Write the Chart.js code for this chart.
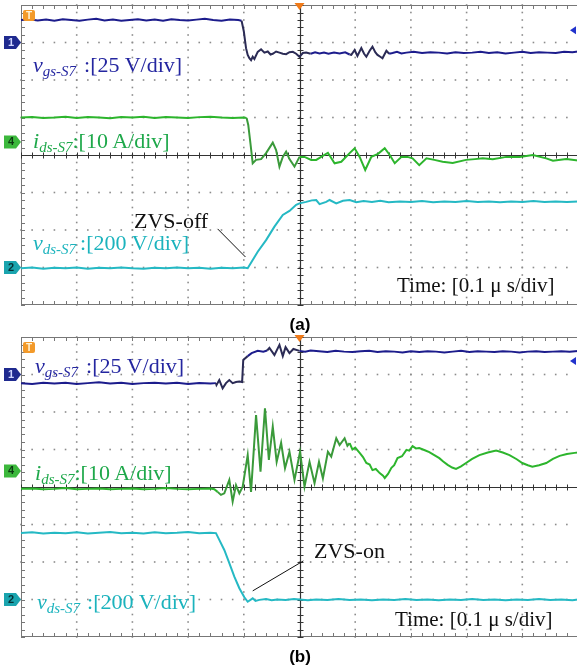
<!DOCTYPE html>
<html>
<head>
<meta charset="utf-8">
<script src="https://cdn.jsdelivr.net/npm/chart.js@4.4.1/dist/chart.umd.min.js"></script>
<style>
  html, body { margin: 0; padding: 0; background: #fff; width: 577px; height: 669px; overflow: hidden; position: relative; }
  canvas { position: absolute; left: 0; }
  .lab { position: absolute; font-family: "Liberation Serif", "Times New Roman", serif; font-size: 22px; line-height: 22px; white-space: nowrap; }
  .lab i { font-style: italic; }
  .lab sub { font-size: 15px; font-style: italic; vertical-align: baseline; position: relative; top: 4px; line-height: 0; }
  .time { font-size: 21px; line-height: 21px; color: #111; }
  .cap { position: absolute; font-family: "Liberation Sans", Arial, sans-serif; font-weight: bold; font-size: 17px; line-height: 17px; width: 40px; text-align: center; }
</style>
</head>
<body>
<canvas id="scopeA" width="600" height="330" style="top:0"></canvas>
<canvas id="scopeB" width="600" height="339" style="top:330px"></canvas>

<!-- panel (a) labels -->
<div class="lab" style="left:33px;top:53.6px;color:#2426a0"><i>v</i><sub>gs-S7</sub><span style="margin-left:8px">:[25 V/div]</span></div>
<div class="lab" style="left:33px;top:129.6px;color:#1ea84a"><i>i</i><sub>ds-S7</sub>:[10 A/div]</div>
<div class="lab" style="left:33px;top:231.6px;color:#1bb3bd"><i>v</i><sub>ds-S7</sub><span style="margin-left:4px">:[200 V/div]</span></div>
<div class="lab time" style="left:397px;top:275.4px">Time: [0.1 μ s/div]</div>
<div class="lab" style="left:134px;top:209.6px;color:#111">ZVS-off</div>
<div class="cap" style="left:280px;top:315.5px">(a)</div>

<!-- panel (b) labels -->
<div class="lab" style="left:35px;top:354.6px;color:#2426a0"><i>v</i><sub>gs-S7</sub><span style="margin-left:8px">:[25 V/div]</span></div>
<div class="lab" style="left:35px;top:461.6px;color:#1ea84a"><i>i</i><sub>ds-S7</sub>:[10 A/div]</div>
<div class="lab" style="left:37px;top:590.6px;color:#1bb3bd"><i>v</i><sub>ds-S7</sub><span style="margin-left:7px">:[200 V/div]</span></div>
<div class="lab time" style="left:395px;top:609.4px">Time: [0.1 μ s/div]</div>
<div class="lab" style="left:314px;top:539.6px;color:#111">ZVS-on</div>
<div class="cap" style="left:280px;top:647.5px">(b)</div>

<script>
// time in ns (0.1 us/div), values in screen divisions (8 div tall, 0 = centre line)

// ---- (a) turn-off ----
const vgsOff = [
  [-500,3.60],[-485,3.62],[-470,3.59],[-455,3.61],[-440,3.58],[-425,3.62],[-410,3.60],[-395,3.58],[-380,3.61],[-365,3.63],
  [-350,3.59],[-335,3.61],[-320,3.58],[-305,3.60],[-290,3.62],[-275,3.59],[-260,3.61],[-245,3.58],[-230,3.62],[-215,3.60],
  [-200,3.59],[-185,3.61],[-170,3.63],[-155,3.60],[-140,3.58],[-125,3.61],[-110,3.60],[-104,3.58],
  [-100,3.30],[-96,2.85],[-93,2.67],[-90,2.58],[-87,2.53],[-84,2.62],[-81,2.56],[-75,2.75],[-69,2.82],[-63,2.73],
  [-57,2.76],[-52,2.68],[-48,2.70],[-42,2.76],[-36,2.73],[-30,2.70],[-24,2.69],[-18,2.74],[-12,2.75],[-6,2.70],
  [0,2.62],[6,2.72],[12,2.73],[20,2.70],[28,2.74],[36,2.71],[44,2.73],[52,2.70],[62,2.73],[72,2.71],[82,2.74],
  [90,2.68],[93,2.67],[99,2.80],[104,2.64],[111,2.85],[116,2.70],[120,2.62],[126,2.78],[131,2.89],[136,2.74],
  [140,2.67],[145,2.62],[149,2.58],[156,2.78],[161,2.70],[167,2.72],[175,2.75],[183,2.71],[192,2.73],[205,2.75],
  [220,2.72],[235,2.74],[250,2.73],[265,2.71],[280,2.74],[295,2.72],[310,2.73],[325,2.75],[340,2.72],[355,2.74],
  [370,2.71],[385,2.73],[400,2.75],[415,2.72],[430,2.74],[445,2.73],[460,2.72],[475,2.75],[490,2.74],[500,2.76]
];
const idsOff = [
  [-500,1.00],[-480,1.01],[-460,0.99],[-440,1.00],[-420,1.02],[-400,0.99],[-380,1.01],[-360,1.00],[-340,0.98],[-320,1.01],
  [-300,1.00],[-280,1.02],[-260,0.99],[-240,1.01],[-220,1.00],[-200,0.99],[-180,1.01],[-160,1.02],[-140,1.00],[-120,0.99],
  [-100,1.00],[-95,0.99],[-92,0.80],[-88,0.30],[-84,-0.22],[-78,-0.13],[-69,-0.11],[-60,0.05],[-48,0.33],[-42,0.13],
  [-36,-0.31],[-30,-0.05],[-24,0.09],[-18,-0.11],[-9,-0.31],[0,-0.05],[9,-0.05],[21,-0.13],[30,-0.13],[39,-0.05],
  [51,0.06],[63,-0.22],[75,-0.18],[90,0.05],[99,0.18],[108,-0.05],[118,-0.40],[129,-0.05],[141,0.03],[153,0.18],
  [162,0.00],[171,-0.22],[183,-0.05],[194,-0.05],[203,-0.09],[215,-0.27],[228,-0.09],[242,-0.13],[257,-0.18],[275,-0.21],
  [299,-0.13],[315,-0.11],[329,-0.09],[347,-0.11],[371,-0.05],[395,-0.05],[419,0.00],[443,-0.09],[455,-0.15],[479,-0.11],[500,-0.15]
];
const vdsOff = [
  [-500,-3.02],[-480,-3.00],[-460,-3.03],[-440,-3.01],[-420,-3.02],[-400,-3.00],[-380,-3.03],[-360,-3.01],[-340,-3.02],
  [-320,-3.00],[-300,-3.02],[-280,-3.03],[-260,-3.01],[-240,-3.02],[-220,-3.00],[-200,-3.02],[-180,-3.01],[-160,-3.03],
  [-140,-3.01],[-120,-3.02],[-100,-3.00],[-93,-3.02],
  [-84,-2.80],[-75,-2.58],[-60,-2.27],[-45,-1.91],[-30,-1.60],[-18,-1.49],[-6,-1.33],[0,-1.29],[12,-1.25],[22,-1.21],
  [30,-1.20],[36,-1.31],[48,-1.25],[54,-1.20],[66,-1.29],[78,-1.22],[90,-1.20],[102,-1.26],[115,-1.23],[130,-1.25],
  [145,-1.22],[160,-1.26],[180,-1.24],[200,-1.25],[220,-1.23],[240,-1.26],[260,-1.24],[280,-1.25],[300,-1.23],[320,-1.25],
  [340,-1.24],[360,-1.26],[380,-1.24],[400,-1.25],[420,-1.23],[440,-1.25],[460,-1.24],[480,-1.25],[500,-1.24]
];
const zvsOffLine = [[-147,-1.97],[-97,-2.72]];

// ---- (b) turn-on ----
const vgsOn = [
  [-500,2.77],[-480,2.75],[-460,2.78],[-440,2.76],[-420,2.78],[-400,2.75],[-380,2.77],[-360,2.79],[-340,2.76],[-320,2.78],
  [-300,2.75],[-280,2.77],[-260,2.78],[-240,2.76],[-220,2.78],[-200,2.75],[-180,2.77],[-160,2.76],[-150,2.77],
  [-149,2.72],[-144,2.85],[-138,2.63],[-132,2.77],[-126,2.85],[-120,2.77],[-114,2.80],[-108,2.81],[-103,2.80],
  [-101,3.39],[-93,3.49],[-86,3.57],[-75,3.63],[-65,3.61],[-58,3.64],[-54,3.71],[-45,3.52],[-36,3.79],[-30,3.49],
  [-25,3.73],[-18,3.57],[-11,3.68],[0,3.63],[10,3.61],[20,3.64],[35,3.62],[50,3.60],[65,3.63],[80,3.61],[95,3.60],
  [110,3.62],[125,3.63],[140,3.60],[155,3.62],[170,3.61],[185,3.59],[200,3.62],[215,3.60],[230,3.62],[245,3.61],
  [260,3.59],[275,3.61],[290,3.63],[305,3.60],[320,3.62],[335,3.61],[350,3.60],[365,3.62],[380,3.61],[395,3.59],
  [410,3.61],[425,3.62],[440,3.60],[455,3.61],[470,3.62],[485,3.61],[500,3.63]
];
const idsOn = [
  [-500,-0.05],[-480,-0.04],[-460,-0.06],[-440,-0.05],[-420,-0.03],[-400,-0.06],[-380,-0.05],[-360,-0.04],[-340,-0.06],
  [-320,-0.05],[-300,-0.04],[-280,-0.06],[-260,-0.05],[-240,-0.03],[-220,-0.05],[-200,-0.06],[-180,-0.05],[-160,-0.04],
  [-153,-0.06],[-147,-0.13],[-141,-0.21],[-135,-0.17],[-126,0.19],[-120,-0.39],[-114,0.05],[-108,-0.17],[-102,0.01],
  [-93,0.85],[-87,-0.13],[-78,1.92],[-70,0.41],[-62,2.10],[-55,0.72],[-48,1.61],[-41,0.67],[-33,1.18],[-26,0.50],
  [-18,0.94],[-9,0.19],[1,0.94],[9,0.01],[18,0.67],[27,0.10],[35,0.67],[42,0.23],[51,0.94],[57,0.81],[66,1.30],
  [72,1.12],[81,1.30],[86,1.10],[90,1.17],[95,1.00],[100,1.05],[108,0.91],[114,0.80],[120,0.64],[126,0.60],[131,0.45],
  [137,0.48],[144,0.37],[150,0.30],[153,0.24],[159,0.35],[165,0.51],[170,0.58],[176,0.77],[184,0.82],[192,0.99],
  [197,0.97],[203,1.09],[209,1.03],[215,1.04],[225,0.98],[233,0.93],[242,0.85],[251,0.77],[258,0.68],[266,0.59],
  [274,0.52],[281,0.48],[290,0.55],[299,0.64],[310,0.75],[323,0.85],[338,0.92],[353,0.97],[365,0.92],[377,0.85],
  [390,0.74],[400,0.64],[410,0.58],[418,0.54],[430,0.58],[443,0.64],[455,0.75],[467,0.83],[480,0.88],[494,0.91],[500,0.92]
];
const vdsOn = [
  [-500,-1.23],[-480,-1.21],[-460,-1.24],[-440,-1.22],[-420,-1.23],[-400,-1.21],[-380,-1.24],[-360,-1.22],[-340,-1.20],
  [-320,-1.23],[-300,-1.22],[-280,-1.24],[-260,-1.21],[-240,-1.23],[-220,-1.22],[-200,-1.20],[-180,-1.23],[-160,-1.22],
  [-150,-1.23],[-144,-1.41],[-135,-1.68],[-126,-2.03],[-117,-2.39],[-108,-2.70],[-99,-2.94],[-93,-3.06],[-84,-2.97],
  [-79,-3.04],[-72,-3.01],[-60,-2.99],[-50,-3.02],[-40,-3.00],[-25,-3.01],[-10,-2.99],[0,-3.00],[15,-3.02],[30,-3.00],
  [50,-3.01],[70,-2.99],[90,-3.01],[110,-3.00],[130,-3.02],[150,-3.00],[170,-3.01],[190,-2.99],[210,-3.01],[230,-3.00],
  [250,-3.02],[270,-3.00],[290,-3.01],[310,-2.99],[330,-3.01],[350,-3.00],[370,-3.02],[390,-3.00],[410,-3.01],
  [430,-2.99],[450,-3.01],[470,-3.00],[490,-3.02],[500,-3.00]
];
const zvsOnLine = [[7,-1.97],[-84,-2.77]];

// channel ground markers (ch1 vgs, ch4 ids, ch2 vds) and right-side reference arrow
const chNames = ['1', '4', '2'];
const chLevelsOff = [3, 0.35, -3];
const chLevelsOn = [3, 0.43, -3];
const refLevelOff = 3.33;
const refLevelOn = 3.36;

const NAVY = '#1c1c8c', GREEN = '#2db52d', CYAN = '#25b9c4';
const chFill = ['#1f2a8f', '#3cb83c', '#1aa4ae'];

function toXY(arr) {
  return arr.map(p => ({ x: p[0], y: p[1] }));
}

// darker trace where the scope shows intensity grading
function darkIn(ranges, normal, dark) {
  return ctx => {
    const t = ctx.p0.parsed.x;
    for (const r of ranges) {
      if (t >= r[0] && t < r[1]) return dark;
    }
    return normal;
  };
}

const scopePlugin = {
  id: 'scope',
  beforeDatasetsDraw(chart, args, opts) {
    const { ctx, chartArea: a, scales: { x, y } } = chart;
    ctx.save();
    // dotted graticule
    ctx.fillStyle = '#8c8c8c';
    for (let d = -4; d <= 4; d++) {
      if (d === 0) continue;
      const px = x.getPixelForValue(d * 100);
      for (let k = -20; k <= 20; k++) {
        const py = y.getPixelForValue(k / 5);
        ctx.fillRect(px - 0.8, py - 0.8, 1.6, 1.6);
      }
    }
    for (let d = -3; d <= 3; d++) {
      if (d === 0) continue;
      const py = y.getPixelForValue(d);
      for (let k = -25; k <= 25; k++) {
        const px = x.getPixelForValue(k * 20);
        ctx.fillRect(px - 0.8, py - 0.8, 1.6, 1.6);
      }
    }
    // frame
    ctx.strokeStyle = '#777';
    ctx.lineWidth = 1;
    ctx.strokeRect(a.left + 0.5, a.top + 0.5, a.width - 1, a.height - 1);
    // frame ticks
    ctx.beginPath();
    for (let k = -25; k <= 25; k++) {
      const px = Math.round(x.getPixelForValue(k * 20)) + 0.5;
      ctx.moveTo(px, a.top); ctx.lineTo(px, a.top + 4);
      ctx.moveTo(px, a.bottom); ctx.lineTo(px, a.bottom - 4);
    }
    for (let k = -20; k <= 20; k++) {
      const py = Math.round(y.getPixelForValue(k / 5)) + 0.5;
      ctx.moveTo(a.left, py); ctx.lineTo(a.left + 4, py);
    }
    ctx.stroke();
    // centre cross with minor ticks
    const cx = Math.round(x.getPixelForValue(0)) + 0.5;
    const cy = Math.round(y.getPixelForValue(0)) + 0.5;
    ctx.strokeStyle = '#333';
    ctx.lineWidth = 1.2;
    ctx.beginPath();
    ctx.moveTo(cx, a.top); ctx.lineTo(cx, a.bottom);
    ctx.moveTo(a.left, cy); ctx.lineTo(a.right, cy);
    ctx.stroke();
    ctx.lineWidth = 1;
    ctx.beginPath();
    for (let k = -20; k <= 20; k++) {
      const py = Math.round(y.getPixelForValue(k / 5)) + 0.5;
      ctx.moveTo(cx - 3, py); ctx.lineTo(cx + 3, py);
    }
    for (let k = -25; k <= 25; k++) {
      const px = Math.round(x.getPixelForValue(k * 20)) + 0.5;
      ctx.moveTo(px, cy - 3); ctx.lineTo(px, cy + 3);
    }
    ctx.stroke();
    ctx.restore();
  },
  afterDraw(chart, args, opts) {
    const { ctx, chartArea: a, scales: { x, y } } = chart;
    ctx.save();
    // channel ground markers on the left
    opts.levels.forEach((lv, i) => {
      const py = y.getPixelForValue(lv);
      const l = a.left - 17, r = a.left;
      ctx.beginPath();
      ctx.moveTo(l, py - 6.5); ctx.lineTo(r - 5, py - 6.5); ctx.lineTo(r, py);
      ctx.lineTo(r - 5, py + 6.5); ctx.lineTo(l, py + 6.5); ctx.closePath();
      ctx.fillStyle = chFill[i];
      ctx.fill();
      ctx.fillStyle = i === 0 ? '#cfd6ff' : '#0d3b12';
      if (i === 2) ctx.fillStyle = '#063236';
      ctx.font = 'bold 11px "Liberation Sans", Arial, sans-serif';
      ctx.textAlign = 'center';
      ctx.textBaseline = 'middle';
      ctx.fillText(chNames[i], l + 7, py + 0.5);
    });
    // trigger "T" marker
    const tx = a.left + 2, ty = a.top + 5;
    ctx.fillStyle = '#f39a2a';
    ctx.beginPath();
    ctx.roundRect(tx, ty, 12, 11, 2);
    ctx.fill();
    ctx.fillStyle = '#fff4d8';
    ctx.font = 'bold 10px "Liberation Sans", Arial, sans-serif';
    ctx.textAlign = 'center';
    ctx.textBaseline = 'middle';
    ctx.fillText('T', tx + 6, ty + 6);
    // trigger position triangle at top centre
    const cx = x.getPixelForValue(0);
    ctx.fillStyle = '#f07a18';
    ctx.beginPath();
    ctx.moveTo(cx - 5, a.top - 2); ctx.lineTo(cx + 5, a.top - 2); ctx.lineTo(cx, a.top + 5);
    ctx.closePath();
    ctx.fill();
    // reference arrow on the right
    const ry = y.getPixelForValue(opts.ref);
    ctx.fillStyle = '#2233cc';
    ctx.beginPath();
    ctx.moveTo(570, ry); ctx.lineTo(576, ry - 4); ctx.lineTo(576, ry + 4);
    ctx.closePath();
    ctx.fill();
    ctx.restore();
  }
};

function makeScope(canvasId, vgs, ids, vds, note, levels, ref, dark, padding) {
  const ctx = document.getElementById(canvasId).getContext('2d');
  return new Chart(ctx, {
    type: 'scatter',
    data: {
      datasets: [
        { data: toXY(vgs), borderColor: NAVY, borderWidth: 2,
          segment: { borderColor: darkIn(dark.vgs, NAVY, '#2b2b55') } },
        { data: toXY(ids), borderColor: GREEN, borderWidth: 2,
          segment: { borderColor: darkIn(dark.ids, GREEN, '#3a9a3a') } },
        { data: toXY(vds), borderColor: CYAN, borderWidth: 2 },
        { data: toXY(note), borderColor: '#111', borderWidth: 1 }
      ].map(ds => Object.assign(ds, { showLine: true, pointRadius: 0, tension: 0, fill: false }))
    },
    options: {
      responsive: false,
      animation: false,
      devicePixelRatio: 1,
      layout: { padding: padding },
      scales: {
        x: { type: 'linear', min: -500, max: 500, display: false },
        y: { type: 'linear', min: -4, max: 4, display: false }
      },
      plugins: {
        legend: { display: false },
        tooltip: { enabled: false },
        scope: { levels: levels, ref: ref }
      }
    },
    plugins: [scopePlugin]
  });
}

makeScope('scopeA', vgsOff, idsOff, vdsOff, zvsOffLine, chLevelsOff, refLevelOff,
  { vgs: [[-104, 20], [90, 160]], ids: [[-95, 0]] },
  { left: 21, top: 5, right: 22, bottom: 25 });

makeScope('scopeB', vgsOn, idsOn, vdsOn, zvsOnLine, chLevelsOn, refLevelOn,
  { vgs: [[-150, -100], [-60, 0]], ids: [[-150, 90]] },
  { left: 21, top: 7, right: 22, bottom: 32 });
</script>
</body>
</html>
